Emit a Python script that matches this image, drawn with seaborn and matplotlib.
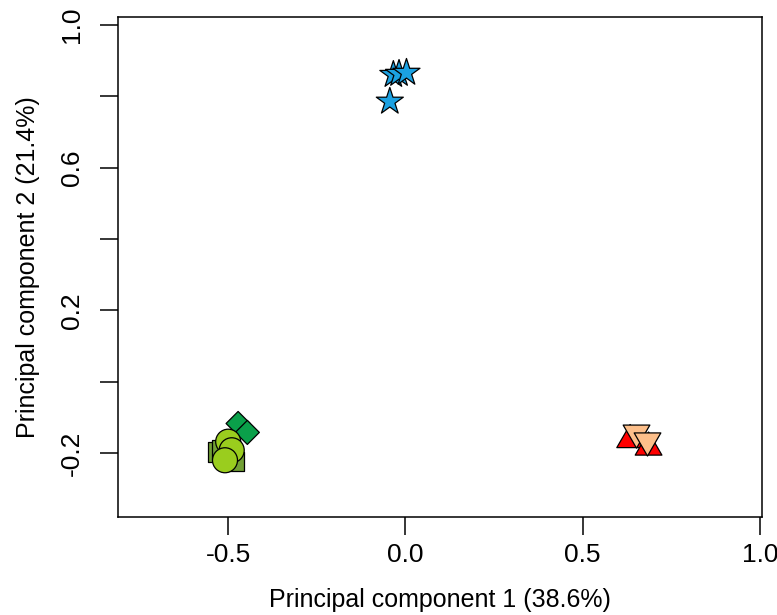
import numpy as np
import pandas as pd
import matplotlib
matplotlib.use("Agg")
import matplotlib.pyplot as plt
from matplotlib.path import Path
import seaborn as sns

# PCA scores per sample group (PC1, PC2)
star_pc1 = [-0.044, -0.034, -0.018, 0.003]
star_pc2 = [0.785, 0.860, 0.863, 0.866]

tri_up_pc1 = [0.634, 0.686]
tri_up_pc2 = [-0.163, -0.184]

tri_down_pc1 = [0.652, 0.683]
tri_down_pc2 = [-0.143, -0.165]

square_pc1 = [-0.531, -0.518, -0.481]
square_pc2 = [-0.197, -0.189, -0.223]

diamond_pc1 = [-0.472, -0.446]
diamond_pc2 = [-0.117, -0.142]

circle_pc1 = [-0.500, -0.490, -0.509]
circle_pc2 = [-0.168, -0.192, -0.220]

groups = ["star", "tri_up", "tri_down", "square", "diamond", "circle"]
pc1_by_group = [star_pc1, tri_up_pc1, tri_down_pc1, square_pc1, diamond_pc1, circle_pc1]
pc2_by_group = [star_pc2, tri_up_pc2, tri_down_pc2, square_pc2, diamond_pc2, circle_pc2]

var_pc1 = 38.6
var_pc2 = 21.4

x_ticks = [-0.5, 0.0, 0.5, 1.0]
x_tick_labels = ["-0.5", "0.0", "0.5", "1.0"]
y_ticks = [-0.2, 0.0, 0.2, 0.4, 0.6, 0.8, 1.0]
y_tick_labels = ["-0.2", "", "0.2", "", "0.6", "", "1.0"]

rows = []
for g, xs, ys in zip(groups, pc1_by_group, pc2_by_group):
    for x, y in zip(xs, ys):
        rows.append({"pc1": x, "pc2": y, "group": g})
df = pd.DataFrame(rows)

# equilateral triangles
up_tri = Path([(0, 1), (0.866, -0.5), (-0.866, -0.5), (0, 1)],
              [Path.MOVETO, Path.LINETO, Path.LINETO, Path.CLOSEPOLY])
down_tri = Path([(0, -1), (0.866, 0.5), (-0.866, 0.5), (0, -1)],
                [Path.MOVETO, Path.LINETO, Path.LINETO, Path.CLOSEPOLY])

markers = {"star": "*", "tri_up": up_tri, "tri_down": down_tri,
           "square": "s", "diamond": "D", "circle": "o"}
palette = {"star": "#1BA1E2", "tri_up": "#FF0000", "tri_down": "#FDBF8A",
           "square": "#72A035", "diamond": "#0AA04A", "circle": "#9ACD1E"}
sizes = {"star": 418, "tri_up": 492, "tri_down": 492,
         "square": 190, "diamond": 150, "circle": 324}

sns.set_style("white")
plt.rcParams["font.family"] = ["Liberation Sans", "DejaVu Sans"]

fig = plt.figure(figsize=(7.77, 6.15), dpi=100)
ax = fig.add_axes([118.3 / 777, 98 / 615, (762 - 118.3) / 777, 500 / 615])

sns.scatterplot(data=df, x="pc1", y="pc2", hue="group", style="group",
                size="group", palette=palette, markers=markers, sizes=sizes,
                edgecolor="black", linewidth=0.9, legend=False, ax=ax, zorder=3)

ax.set_xlim(-0.810, 1.006)
ax.set_ylim(-0.379, 1.022)

ax.set_xticks(x_ticks)
ax.set_xticklabels(x_tick_labels)
ax.set_yticks(y_ticks)
ax.set_yticklabels(y_tick_labels)

for s in ax.spines.values():
    s.set_visible(True)
    s.set_color("black")
    s.set_linewidth(1.1)

ax.tick_params(axis="both", which="major", bottom=True, left=True,
               direction="out", length=12.9, width=1.1,
               color="black", labelsize=19, labelcolor="black")
ax.tick_params(axis="x", pad=5.5)
ax.tick_params(axis="y", pad=11.8, labelrotation=90)
for lab in ax.get_yticklabels():
    lab.set_va("center")

ax.set_xlabel(f"Principal component 1 ({var_pc1}%)", fontsize=18, color="black")
ax.set_ylabel(f"Principal component 2 ({var_pc2}%)", fontsize=18, color="black")
ax.xaxis.set_label_coords(0.5, -0.142)
ax.yaxis.set_label_coords(-0.121, 0.5)
ax.grid(False)

fig.savefig("out.png", dpi=100)
